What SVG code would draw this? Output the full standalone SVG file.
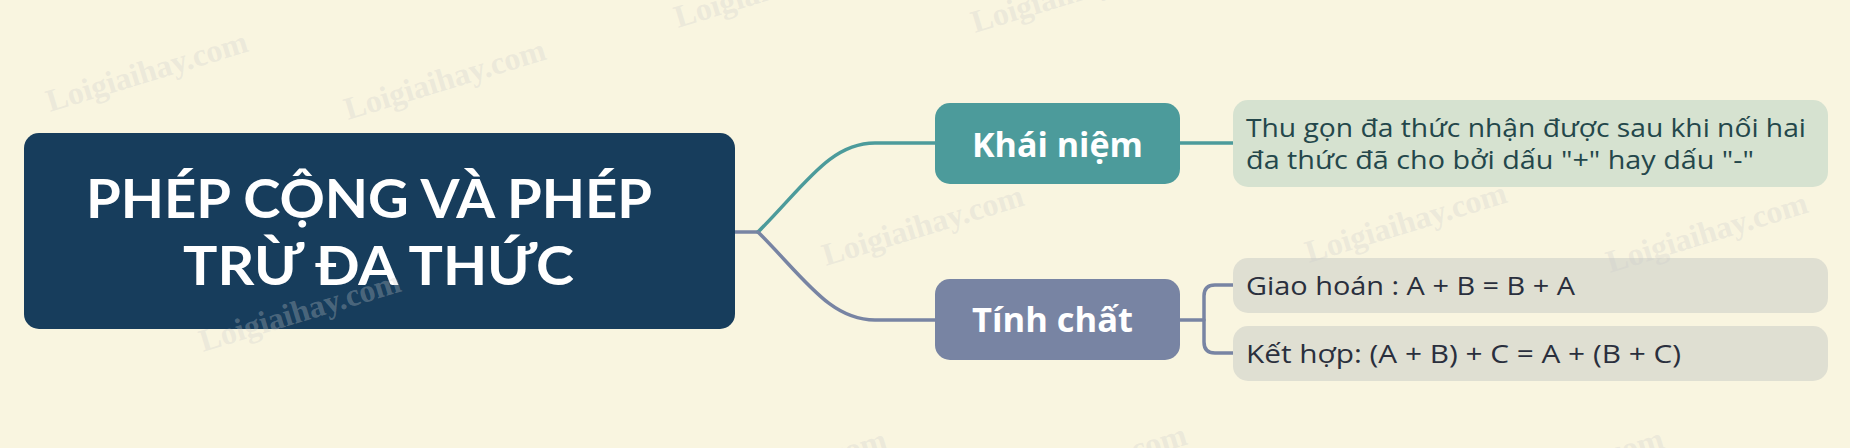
<svg xmlns="http://www.w3.org/2000/svg" width="1850" height="448" viewBox="0 0 1850 448">
<style>
.title{font-family:Lato,"Open Sans","Liberation Sans",sans-serif;font-weight:700;font-size:54px;fill:#ffffff}
.branch{font-family:"Open Sans","Liberation Sans",sans-serif;font-weight:700;font-size:34px;fill:#ffffff}
.detail{font-family:"Open Sans","Liberation Sans",sans-serif;font-size:26px}
.wm{font-family:"Liberation Serif",serif;font-weight:700;font-size:32px;fill:#cccccc;fill-opacity:0.3}
.conn{fill:none;stroke-width:3.5;stroke-linecap:round;stroke-linejoin:round}
</style>
<rect x="0" y="0" width="1850" height="448" fill="#f9f5e0"/>
<g id="connectors">
<path class="conn" stroke="#7884a3" d="M735,232 H758"/>
<path class="conn" stroke="#4c9b9b" d="M758,232 C805,185 830,143 875,143 L935,143"/>
<path class="conn" stroke="#7884a3" d="M758,232 C805,279 830,320 875,320 L935,320"/>
<path class="conn" stroke="#4c9b9b" d="M1180,143 H1233"/>
<path class="conn" stroke="#7884a3" d="M1180,320 H1204"/>
<path class="conn" stroke="#7884a3" d="M1233,285 H1215 Q1204,285 1204,296 V342 Q1204,353 1215,353 H1233"/>
</g>
<g id="root">
<rect x="24" y="133" width="711" height="196" rx="15" fill="#173d5c"/>
<text class="title" x="86" y="218" textLength="566" lengthAdjust="spacingAndGlyphs">PHÉP CỘNG VÀ PHÉP</text>
<text class="title" x="183" y="285" textLength="391" lengthAdjust="spacingAndGlyphs">TRỪ ĐA THỨC</text>
</g>
<g id="khai-niem">
<rect x="935" y="103" width="245" height="81" rx="15" fill="#4c9b9b"/>
<text class="branch" x="972" y="157" textLength="171" lengthAdjust="spacingAndGlyphs">Khái niệm</text>
</g>
<g id="tinh-chat">
<rect x="935" y="279" width="245" height="81" rx="15" fill="#7884a3"/>
<text class="branch" x="972" y="332" textLength="161" lengthAdjust="spacingAndGlyphs">Tính chất</text>
</g>
<g id="dinh-nghia">
<rect x="1233" y="100" width="595" height="87" rx="15" fill="#d6e2d0"/>
<text class="detail" fill="#24474b" x="1246" y="137" textLength="560" lengthAdjust="spacingAndGlyphs">Thu gọn đa thức nhận được sau khi nối hai</text>
<text class="detail" fill="#24474b" x="1246" y="169" textLength="508" lengthAdjust="spacingAndGlyphs">đa thức đã cho bởi dấu "+" hay dấu "-"</text>
</g>
<g id="giao-hoan">
<rect x="1233" y="258" width="595" height="55" rx="15" fill="#dfdfd2"/>
<text class="detail" fill="#2a2f3d" x="1246" y="295" textLength="329" lengthAdjust="spacingAndGlyphs">Giao hoán : A + B = B + A</text>
</g>
<g id="ket-hop">
<rect x="1233" y="326" width="595" height="55" rx="15" fill="#dfdfd2"/>
<text class="detail" fill="#2a2f3d" x="1246" y="363" textLength="435" lengthAdjust="spacingAndGlyphs">Kết hợp: (A + B) + C = A + (B + C)</text>
</g>
<g id="watermarks">
<text class="wm" transform="translate(50,112) rotate(-17)">Loigiaihay.com</text>
<text class="wm" transform="translate(348,120) rotate(-17)">Loigiaihay.com</text>
<text class="wm" transform="translate(678,28) rotate(-17)">Loigiaihay.com</text>
<text class="wm" transform="translate(975,33) rotate(-17)">Loigiaihay.com</text>
<text class="wm" transform="translate(826,266) rotate(-17)">Loigiaihay.com</text>
<text class="wm" transform="translate(1309,263) rotate(-17)">Loigiaihay.com</text>
<text class="wm" transform="translate(1610,273) rotate(-17)">Loigiaihay.com</text>
<text class="wm" transform="translate(203,352) rotate(-17)">Loigiaihay.com</text>
<text class="wm" transform="translate(689,510) rotate(-17)">Loigiaihay.com</text>
<text class="wm" transform="translate(989,505) rotate(-17)">Loigiaihay.com</text>
<text class="wm" transform="translate(1466,509) rotate(-17)">Loigiaihay.com</text>
</g>
</svg>
